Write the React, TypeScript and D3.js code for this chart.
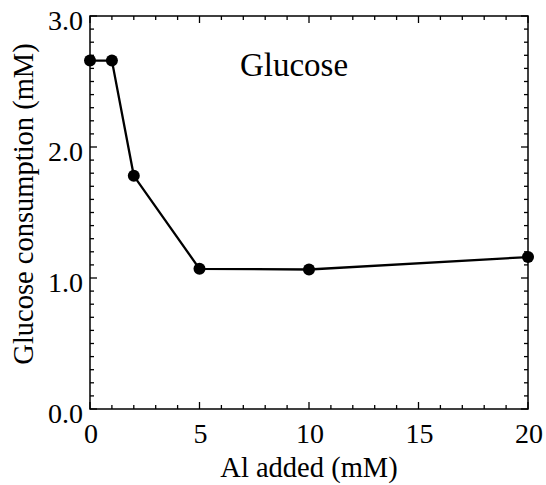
import React from 'react';
import * as d3 from 'd3';

const alAdded = [0, 1, 2, 5, 10, 20];
const glucose = [2.66, 2.66, 1.78, 1.07, 1.065, 1.16];
const xTicks = [0, 5, 10, 15, 20];
const yTicks = [0, 1, 2, 3];

export default function App() {
  const width = 546;
  const height = 485;
  const m = { left: 90, right: 18, top: 16, bottom: 76 };

  const x = d3.scaleLinear().domain([0, 20]).range([m.left, width - m.right]);
  const y = d3.scaleLinear().domain([0, 3]).range([height - m.bottom, m.top]);

  const line = d3.line<number>()
    .x((_, i) => x(alAdded[i]))
    .y(d => y(d));

  const xMinor = d3.range(0, 21, 1);
  const yMinor = d3.range(0, 31, 1).map(v => v / 10);
  const font = "'Liberation Serif', serif";

  const x0 = x(0), x1 = x(20), y0 = y(0), y1 = y(3);

  return (
    <svg width={width} height={height} style={{ position: 'absolute', left: 0, top: 0, fontFamily: font }}>
      <rect width={width} height={height} fill="#fff" />
      <g stroke="#000" strokeWidth={1.3}>
        {xMinor.map(v => {
          const len = v % 5 === 0 ? 7 : 4;
          return (
            <g key={'x' + v}>
              <line x1={x(v)} x2={x(v)} y1={y0} y2={y0 - len} />
              <line x1={x(v)} x2={x(v)} y1={y1} y2={y1 + len} />
            </g>
          );
        })}
        {yMinor.map((v, i) => {
          const len = i % 10 === 0 ? 7 : 4;
          return (
            <g key={'y' + i}>
              <line x1={x0} x2={x0 + len} y1={y(v)} y2={y(v)} />
              <line x1={x1} x2={x1 - len} y1={y(v)} y2={y(v)} />
            </g>
          );
        })}
      </g>
      <rect x={x0} y={y1} width={x1 - x0} height={y0 - y1} fill="none" stroke="#000" strokeWidth={1.5} />

      <g style={{ fontFamily: font, fontSize: 28 }} fill="#000">
        {xTicks.map(t => (
          <text key={t} x={x(t) + 1} y={y0 + 34} textAnchor="middle">{t}</text>
        ))}
        {yTicks.map(t => (
          <text key={t} x={x0 - 7} y={y(t) + 14} textAnchor="end">{t.toFixed(1)}</text>
        ))}
      </g>

      <path d={line(glucose) || ''} fill="none" stroke="#000" strokeWidth={2.3} />
      {glucose.map((v, i) => (
        <circle key={i} cx={x(alAdded[i])} cy={y(v)} r={6} fill="#000" />
      ))}

      <text x={294} y={76} style={{ fontFamily: font, fontSize: 33 }} textAnchor="middle">Glucose</text>
      <text x={x(10)} y={477} style={{ fontFamily: font, fontSize: 28.5 }} textAnchor="middle">Al added (mM)</text>
      <text
        transform={`translate(33, 204) rotate(-90)`}
        style={{ fontFamily: font, fontSize: 28.5 }}
        textAnchor="middle"
      >
        Glucose consumption (mM)
      </text>
    </svg>
  );
}
